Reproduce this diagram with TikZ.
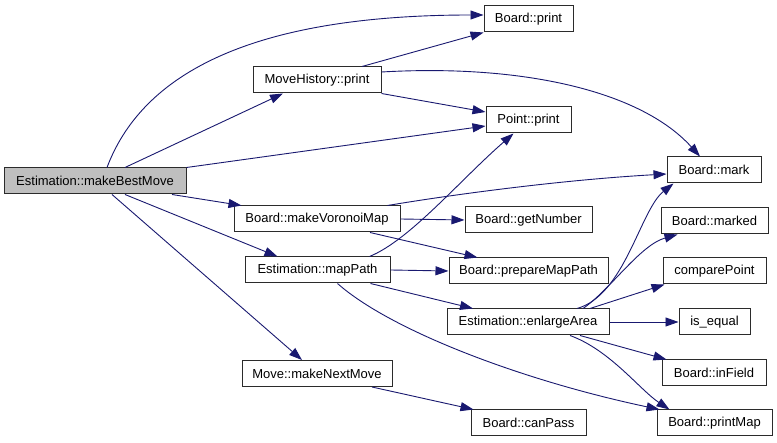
\documentclass[tikz,border=0pt]{standalone}
\usepackage{fontspec}
\setmainfont{Liberation Sans}
\usetikzlibrary{arrows.meta}
\definecolor{edgeblue}{HTML}{191970}
\definecolor{rootgray}{HTML}{BFBFBF}
\definecolor{frame}{HTML}{2B2B2B}
\tikzset{
  fn/.style    ={draw=frame, line width=1pt, fill=white, inner sep=0pt, minimum height=26pt, font=\fontsize{13}{15}\selectfont},
  fnroot/.style={fn, fill=rootgray},
  ln/.style    ={draw=edgeblue, line width=.9pt, -{Triangle[length=13pt,width=9pt]}},
}

\begin{document}
\begin{tikzpicture}[x=1pt,y=-1pt]
  \fill[white] (0,0) rectangle (777,443);
  % caller
  \node[fnroot,minimum width=182pt] (best) at (95,181) {Estimation::makeBestMove};
  % second column
  \node[fn,minimum width=128pt] (mhprint)  at (317,80)    {MoveHistory::print};
  \node[fn,minimum width=166pt] (voronoi)  at (317,219)   {Board::makeVoronoiMap};
  \node[fn,minimum width=145pt] (mappath)  at (317.5,270) {Estimation::mapPath};
  \node[fn,minimum width=150pt] (nextmove) at (317,373.5) {Move::makeNextMove};
  % third column
  \node[fn,minimum width=89pt]  (bprint)   at (528.5,19)  {Board::print};
  \node[fn,minimum width=85pt]  (pprint)   at (528.5,120) {Point::print};
  \node[fn,minimum width=127pt] (getnum)   at (528.5,220) {Board::getNumber};
  \node[fn,minimum width=159pt] (prepare)  at (528.5,271) {Board::prepareMapPath};
  \node[fn,minimum width=162pt] (enlarge)  at (528,322)   {Estimation::enlargeArea};
  \node[fn,minimum width=115pt] (canpass)  at (528.5,423) {Board::canPass};
  % fourth column
  \node[fn,minimum width=94pt]  (bmark)    at (714,170)   {Board::mark};
  \node[fn,minimum width=107pt] (marked)   at (714.5,221) {Board::marked};
  \node[fn,minimum width=103pt] (compare)  at (714.5,271) {comparePoint};
  \node[fn,minimum width=71pt]  (isequal)  at (714.5,322) {is\_equal};
  \node[fn,minimum width=104pt] (infield)  at (714,373)   {Board::inField};
  \node[fn,minimum width=115pt] (printmap) at (714.5,423) {Board::printMap};

  % makeBestMove
  \draw[ln] ([xshift=12pt]best.north) .. controls (140,80) and (240,15) .. ([yshift=4pt]bprint.west);
  \draw[ln] ([xshift=30pt]best.north) -- ([xshift=-34pt]mhprint.south);
  \draw[ln] (best.north east) -- ([yshift=-6pt]pprint.west);
  \draw[ln] ([xshift=77pt]best.south) -- ([xshift=8pt]voronoi.north west);
  \draw[ln] ([xshift=30pt]best.south) -- ([xshift=-40pt]mappath.north);
  \draw[ln] ([xshift=17pt]best.south) -- ([xshift=-15pt]nextmove.north);
  % MoveHistory::print
  \draw[ln] ([xshift=45pt]mhprint.north) -- (bprint.south west);
  \draw[ln] (mhprint.south east) -- ([yshift=8pt]pprint.west);
  \draw[ln] ([yshift=8pt]mhprint.east) .. controls (520,64) and (640,90) .. ([xshift=-14pt]bmark.north);
  % Board::makeVoronoiMap
  \draw[ln] ([xshift=-13pt]voronoi.north east) .. controls (450,195) and (560,180) .. ([yshift=-4pt]bmark.west);
  \draw[ln] (voronoi.east) -- (getnum.west);
  \draw[ln] ([xshift=53pt]voronoi.south) -- ([xshift=-51pt]prepare.north);
  % Estimation::mapPath
  \draw[ln] ([xshift=52pt]mappath.north) .. controls (410,240) and (460,180) .. ([xshift=-15pt]pprint.south);
  \draw[ln] (mappath.east) -- (prepare.west);
  \draw[ln] ([xshift=53pt]mappath.south) -- ([xshift=-55pt]enlarge.north);
  \draw[ln] ([xshift=20pt]mappath.south) .. controls (390,330) and (520,380) .. ([xshift=3pt]printmap.north west);
  % Move::makeNextMove
  \draw[ln] ([xshift=55pt]nextmove.south) -- ([xshift=-55pt]canpass.north);
  % Estimation::enlargeArea
  \draw[ln] ([xshift=49pt]enlarge.north) .. controls (625,295) and (640,210) .. ([xshift=7pt]bmark.south west);
  \draw[ln] ([xshift=55pt]enlarge.north) .. controls (610,290) and (640,245) .. ([xshift=17pt]marked.south west);
  \draw[ln] ([xshift=62pt]enlarge.north) -- ([xshift=2pt]compare.south west);
  \draw[ln] (enlarge.east) -- (isequal.west);
  \draw[ln] ([xshift=52pt]enlarge.south) -- ([xshift=5pt]infield.north west);
  \draw[ln] ([xshift=42pt]enlarge.south) .. controls (610,350) and (640,390) .. ([xshift=13pt]printmap.north west);
\end{tikzpicture}
\end{document}
